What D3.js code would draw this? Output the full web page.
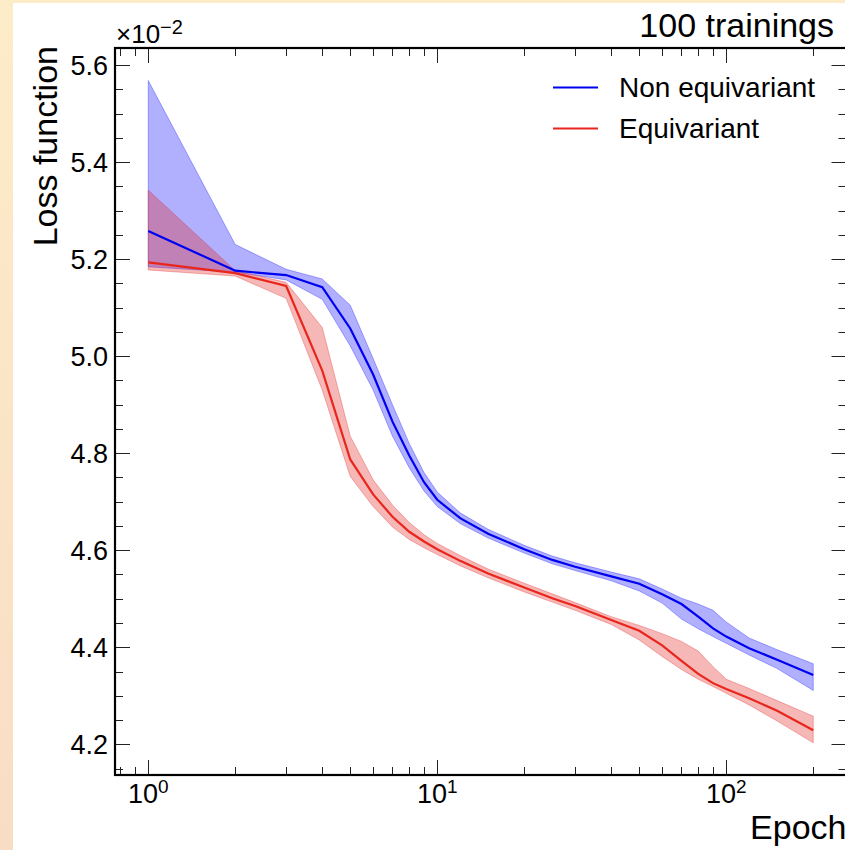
<!DOCTYPE html>
<html>
<head>
<meta charset="utf-8">
<script src="https://cdn.jsdelivr.net/npm/d3@7"></script>
<style>
  body { margin: 0; }
  svg { display: block; font-family: "Liberation Sans", Arial, sans-serif; }
</style>
</head>
<body>
<svg width="845" height="850"></svg>
<script>
// epochs sampled from the curves (every epoch up to 10, then sparser)
const epochs = [1, 2, 3, 4, 5, 6, 7, 8, 9, 10, 12, 15, 20, 25, 30, 40, 50, 60, 70, 80, 90, 100, 120, 150, 200];

// loss values, in units of 1e-2
const nonEqMean = [5.258, 5.176, 5.167, 5.142, 5.057, 4.962, 4.865, 4.795, 4.740, 4.704, 4.666, 4.634, 4.602, 4.580, 4.566, 4.546, 4.531, 4.509, 4.489, 4.463, 4.439, 4.422, 4.398, 4.374, 4.343];
const nonEqLow  = [5.184, 5.173, 5.157, 5.117, 5.021, 4.930, 4.835, 4.770, 4.722, 4.690, 4.655, 4.625, 4.594, 4.572, 4.558, 4.537, 4.516, 4.491, 4.458, 4.438, 4.422, 4.408, 4.384, 4.356, 4.311];
const nonEqHigh = [5.568, 5.230, 5.179, 5.159, 5.105, 4.995, 4.900, 4.820, 4.760, 4.720, 4.677, 4.643, 4.610, 4.588, 4.574, 4.555, 4.541, 4.520, 4.501, 4.489, 4.476, 4.452, 4.419, 4.395, 4.366];

const eqMean = [5.193, 5.171, 5.1445, 4.970, 4.787, 4.715, 4.669, 4.638, 4.618, 4.602, 4.578, 4.552, 4.523, 4.501, 4.485, 4.456, 4.434, 4.404, 4.372, 4.345, 4.326, 4.314, 4.295, 4.269, 4.229];
const eqLow  = [5.1775, 5.165, 5.119, 4.930, 4.752, 4.690, 4.648, 4.622, 4.605, 4.591, 4.568, 4.543, 4.514, 4.493, 4.476, 4.447, 4.415, 4.381, 4.354, 4.334, 4.319, 4.305, 4.281, 4.248, 4.203];
const eqHigh = [5.342, 5.176, 5.152, 5.059, 4.835, 4.745, 4.693, 4.657, 4.632, 4.614, 4.589, 4.561, 4.532, 4.510, 4.492, 4.463, 4.445, 4.428, 4.412, 4.392, 4.360, 4.334, 4.315, 4.290, 4.258];

const seriesNames = ["Non equivariant", "Equivariant"];
const yTicks = [4.2, 4.4, 4.6, 4.8, 5.0, 5.2, 5.4, 5.6];
const xTicks = [1, 10, 100];

const svg = d3.select("svg");
const W = 845, H = 850;
const mLeft = 115, mRight = 846.5, mTop = 48, mBottom = 775;

// page background with the cream border
const defs = svg.append("defs");
const grad = defs.append("linearGradient")
  .attr("id", "bg").attr("x1", 0).attr("y1", 0).attr("x2", 0).attr("y2", 1);
grad.append("stop").attr("offset", "0%").attr("stop-color", "#fdecc8");
grad.append("stop").attr("offset", "100%").attr("stop-color", "#f8ddc5");
svg.append("rect").attr("width", W).attr("height", H).attr("fill", "url(#bg)");
svg.append("rect").attr("x", 13).attr("y", 3).attr("width", W - 13).attr("height", H - 3).attr("fill", "#fff");

defs.append("clipPath").attr("id", "plot")
  .append("rect").attr("x", mLeft).attr("y", mTop).attr("width", mRight - mLeft).attr("height", mBottom - mTop);

const x = d3.scaleLog()
  .domain([Math.pow(10, -0.11505), Math.pow(10, 2.41607)])
  .range([mLeft, mRight]);
const y = d3.scaleLinear()
  .domain([4.1367, 5.635])
  .range([mBottom, mTop]);

const series = [
  {name: seriesNames[0], color: "#0000f0", fill: "rgba(0,0,255,0.31)", mean: nonEqMean, low: nonEqLow, high: nonEqHigh},
  {name: seriesNames[1], color: "#e8261c", fill: "rgba(226,30,30,0.32)", mean: eqMean, low: eqLow, high: eqHigh}
];

const area = d3.area()
  .x((d, i) => x(epochs[i]))
  .y0(d => y(d[0]))
  .y1(d => y(d[1]));
const line = d3.line()
  .x((d, i) => x(epochs[i]))
  .y(d => y(d));

const plot = svg.append("g").attr("clip-path", "url(#plot)");

series.forEach(s => {
  plot.append("path")
    .datum(s.low.map((v, i) => [v, s.high[i]]))
    .attr("d", area)
    .attr("fill", s.fill)
    .attr("stroke", s.fill)
    .attr("stroke-width", 1);
});
series.forEach(s => {
  plot.append("path")
    .datum(s.mean)
    .attr("d", line)
    .attr("fill", "none")
    .attr("stroke", s.color)
    .attr("stroke-width", 2.2);
});

// ticks pointing inward on all four sides
const ticks = svg.append("g").attr("stroke", "#222").attr("stroke-width", 1);
const xMinor = [];
[0.1, 1, 10, 100].forEach(d => {
  for (let k = 2; k <= 9; k++) xMinor.push(d * k);
});
const xDom = x.domain();
xMinor.filter(v => v > xDom[0] && v < xDom[1]).forEach(v => {
  const px = Math.round(x(v)) + 0.5;
  ticks.append("line").attr("x1", px).attr("x2", px).attr("y1", mBottom).attr("y2", mBottom - 8);
  ticks.append("line").attr("x1", px).attr("x2", px).attr("y1", mTop).attr("y2", mTop + 8);
});
xTicks.forEach(v => {
  const px = Math.round(x(v)) + 0.5;
  ticks.append("line").attr("x1", px).attr("x2", px).attr("y1", mBottom).attr("y2", mBottom - 15);
  ticks.append("line").attr("x1", px).attr("x2", px).attr("y1", mTop).attr("y2", mTop + 15);
});
d3.range(4.15, 5.64, 0.05).forEach(v => {
  const major = yTicks.some(t => Math.abs(t - v) < 1e-6);
  const len = major ? 15 : 8;
  const py = Math.round(y(v)) + 0.5;
  ticks.append("line").attr("x1", mLeft).attr("x2", mLeft + len).attr("y1", py).attr("y2", py);
  ticks.append("line").attr("x1", mRight).attr("x2", mRight - len).attr("y1", py).attr("y2", py);
});

// frame
svg.append("rect")
  .attr("x", mLeft).attr("y", mTop)
  .attr("width", mRight - mLeft).attr("height", mBottom - mTop)
  .attr("fill", "none").attr("stroke", "#000").attr("stroke-width", 2.2);

// tick labels
svg.append("g").selectAll("text")
  .data(yTicks)
  .join("text")
  .attr("x", 108)
  .attr("y", d => y(d))
  .attr("dy", "0.36em")
  .attr("text-anchor", "end")
  .attr("font-size", 27)
  .text(d => d.toFixed(1));

const xl = svg.append("g").selectAll("text")
  .data(xTicks)
  .join("text")
  .attr("x", d => x(d))
  .attr("y", 803)
  .attr("text-anchor", "middle")
  .attr("font-size", 27);
xl.append("tspan").text("10");
xl.append("tspan").attr("dy", -10).attr("font-size", 19).text(d => Math.round(Math.log10(d)));

// offset text
const off = svg.append("text").attr("x", 116).attr("y", 43).attr("font-size", 26);
off.append("tspan").text("\u00d710");
off.append("tspan").attr("dy", -9).attr("font-size", 20).text("\u22122");

// axis labels
svg.append("text")
  .attr("transform", "translate(57," + (mTop - 2) + ") rotate(-90)")
  .attr("text-anchor", "end")
  .attr("font-size", 34)
  .text("Loss function");
svg.append("text")
  .attr("x", mRight).attr("y", 839)
  .attr("text-anchor", "end")
  .attr("font-size", 34)
  .text("Epoch");
svg.append("text")
  .attr("x", 834).attr("y", 37)
  .attr("text-anchor", "end")
  .attr("font-size", 34)
  .text("100 trainings");

// legend
const legend = svg.append("g").selectAll("g")
  .data(series)
  .join("g")
  .attr("transform", (d, i) => "translate(553," + (87.5 + i * 41) + ")");
legend.append("line")
  .attr("x1", 0).attr("x2", 45)
  .attr("stroke", d => d.color)
  .attr("stroke-width", 2.2);
legend.append("text")
  .attr("x", 66).attr("y", 9.5)
  .attr("font-size", 28)
  .text(d => d.name);
</script>
</body>
</html>
